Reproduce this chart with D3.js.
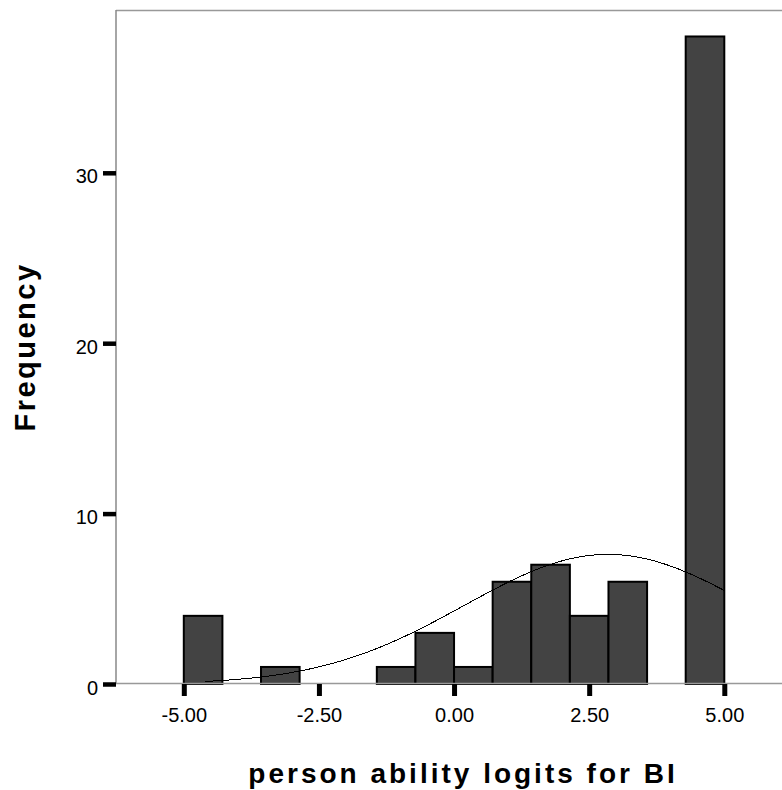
<!DOCTYPE html>
<html>
<head>
<meta charset="utf-8">
<script src="https://d3js.org/d3.v7.min.js"></script>
<style>
	body{margin:0;background:#fff;}
	svg{display:block;}
	text{font-family:Arial,"Liberation Sans",sans-serif;}
</style>
</head>
<body>
<script>
////////////// data
var binStart=-5;            //left edge of first bin (logits)
var binWidth=10/14;         //14 equal bins from -5 to 5
var counts=[4,0,1,0,0,1,3,1,6,7,4,6,0,38];
var xTicks=[-5,-2.5,0,2.5,5];
var yTicks=[0,10,20,30];
var normalMean=2.85;        //fitted normal curve
var normalSd=2.66;
var curveFrom=-4.6, curveTo=5;
var xTitle="person ability logits for BI";
var yTitle="Frequency";

var W=782,H=790;
var plot={left:116,top:10,right:782,bottom:684};

var svg=d3.select("body").append("svg")
	.attr("width",W)
	.attr("height",H);

var x=d3.scaleLinear().domain([-5,5]).range([183.8,724.3]);
var y=d3.scaleLinear().domain([0,40]).range([plot.bottom,plot.bottom-40*17.04]);

//bins built from counts
var bins=counts.map(function(c,i){
	return {x0:binStart+i*binWidth,x1:binStart+(i+1)*binWidth,n:c};
}).filter(function(b){return b.n>0;});

//frame lines (gray)
svg.append("line")
	.attr("x1",plot.left).attr("x2",plot.right)
	.attr("y1",plot.top+0.5).attr("y2",plot.top+0.5)
	.attr("stroke","#999").attr("stroke-width",1.5);
svg.append("line")
	.attr("x1",plot.left).attr("x2",plot.left)
	.attr("y1",plot.top).attr("y2",plot.bottom)
	.attr("stroke","#888").attr("stroke-width",1.5);

//bars
svg.append("g").selectAll("rect")
	.data(bins)
	.enter().append("rect")
	.attr("x",function(d){return x(d.x0);})
	.attr("y",function(d){return y(d.n);})
	.attr("width",function(d){return x(d.x1)-x(d.x0);})
	.attr("height",function(d){return y(0)-y(d.n);})
	.attr("fill","#434343")
	.attr("stroke","#000")
	.attr("stroke-width",2);

//bottom axis line, drawn over the bar bases like the original
svg.append("line")
	.attr("x1",plot.left).attr("x2",plot.right)
	.attr("y1",plot.bottom-0.5).attr("y2",plot.bottom-0.5)
	.attr("stroke","#999").attr("stroke-width",1.5);

//normal curve
var pts=d3.range(curveFrom,curveTo+0.0001,0.02).map(function(v){
	var z=(v-normalMean)/normalSd;
	var dens=Math.exp(-0.5*z*z)/(normalSd*Math.sqrt(2*Math.PI));
	return [v,dens*d3.sum(counts)*binWidth];
});
svg.append("path")
	.datum(pts)
	.attr("d",d3.line().x(function(d){return x(d[0]);}).y(function(d){return y(d[1]);}))
	.attr("fill","none")
	.attr("stroke","#000")
	.attr("stroke-width",1)
	.attr("shape-rendering","crispEdges");

//x axis
var xAxis=svg.append("g")
	.attr("transform","translate(0,"+plot.bottom+")")
	.call(d3.axisBottom(x).tickValues(xTicks).tickSize(12).tickPadding(12)
		.tickFormat(function(d){return d.toFixed(2);}));
xAxis.select(".domain").remove();
xAxis.selectAll(".tick line").attr("stroke","#000").attr("stroke-width",5);
xAxis.selectAll(".tick text")
	.attr("fill","#000")
	.style("font-size","20px");

//y axis
var yAxis=svg.append("g")
	.attr("transform","translate("+plot.left+",0)")
	.call(d3.axisLeft(y).tickValues(yTicks).tickSize(13).tickPadding(5));
yAxis.select(".domain").remove();
yAxis.selectAll(".tick line").attr("stroke","#000").attr("stroke-width",4.5);
yAxis.selectAll(".tick text")
	.attr("fill","#000")
	.attr("dy","0.5em")
	.style("font-size","20px");

//titles
svg.append("text")
	.attr("x",463)
	.attr("y",783)
	.attr("text-anchor","middle")
	.style("font-size","28px")
	.style("font-weight","bold")
	.style("letter-spacing","3px")
	.text(xTitle);

svg.append("text")
	.attr("transform","translate(35,347) rotate(-90)")
	.attr("text-anchor","middle")
	.style("font-size","29px")
	.style("font-weight","bold")
	.style("letter-spacing","2.5px")
	.text(yTitle);
</script>
</body>
</html>
